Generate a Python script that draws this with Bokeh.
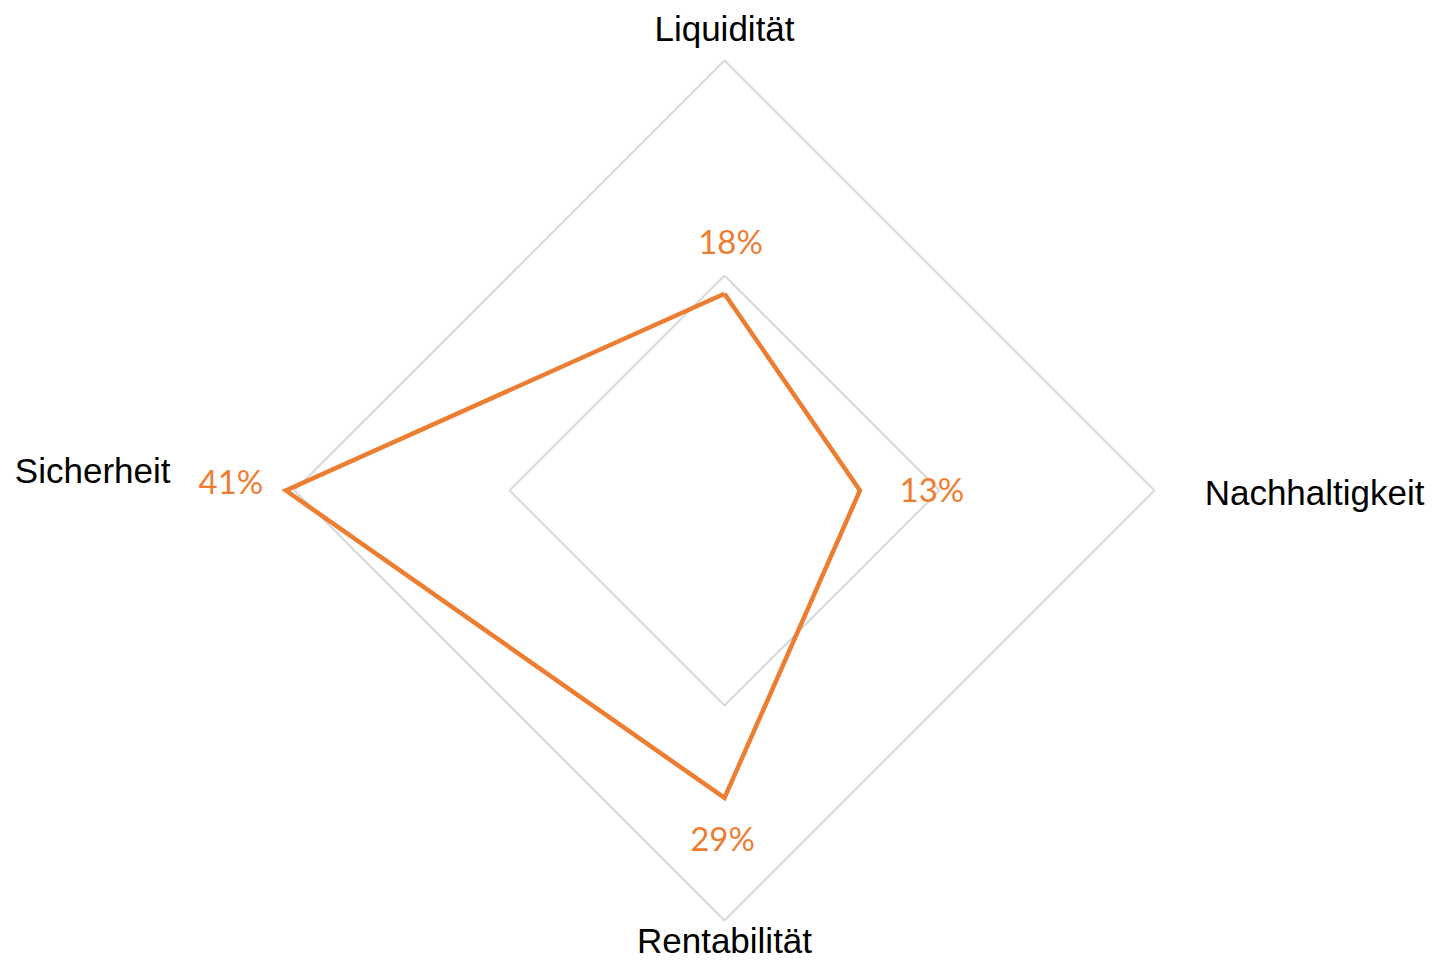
import numpy as np
from bokeh.plotting import figure
from bokeh.models import Range1d, ColumnDataSource
from bokeh.core.properties import value
from bokeh.embed import file_html
from bokeh.resources import INLINE

# ---- data ----
categories = ["Liquidität", "Nachhaltigkeit", "Rentabilität", "Sicherheit"]
shares = [0.183, 0.126, 0.286, 0.408]
share_labels = ["18%", "13%", "29%", "41%"]
grid_levels = [0.2, 0.4]
scale_max = 0.4

# ---- layout / style ----
W, H = 1426, 961
CX, CY = 724, 490          # centre in figure pixels (from top-left)
R = 430                    # radius of outer ring in px
ORANGE = "#ED7D31"
GRID = "#D9D9D9"

angles = np.radians([90, 0, -90, 180])   # clockwise from top

p = figure(width=W, height=H, output_backend="svg", toolbar_location=None,
           x_range=Range1d(-CX, W - CX), y_range=Range1d(-(H - CY), CY),
           min_border=0, outline_line_color=None)
p.axis.visible = False
p.grid.visible = False
p.background_fill_color = "white"
p.border_fill_color = "white"

# grid rings
for lv in grid_levels:
    r = lv / scale_max * R
    xs = list(r * np.cos(angles)) + [r * np.cos(angles[0])]
    ys = list(r * np.sin(angles)) + [r * np.sin(angles[0])]
    p.line(xs, ys, line_color=GRID, line_width=2)

# data polygon
rad = np.array(shares) / scale_max * R
px = rad * np.cos(angles)
py = rad * np.sin(angles)
p.line(list(px) + [px[0]], list(py) + [py[0]], line_color=ORANGE, line_width=4.5,
       line_join="miter")

# data labels (offsets in px from vertex)
lab_dx = [6, 72, -2, -55]
lab_dy = [53, 2, -40, 10]
src = ColumnDataSource(dict(x=px + np.array(lab_dx), y=py + np.array(lab_dy), t=share_labels))
p.text(x="x", y="y", text="t", source=src, text_color=ORANGE,
       text_font=value("Lato"), text_font_size="33px",
       text_align="center", text_baseline="middle")

# category labels
cat_x = [0, 700, 0, -554]
cat_y = [R + 32, -2, -450, 20]
cat_align = ["center", "right", "center", "right"]
csrc = ColumnDataSource(dict(x=cat_x, y=cat_y, t=categories, a=cat_align))
p.text(x="x", y="y", text="t", source=csrc, text_color="black",
       text_font=value("Liberation Sans"), text_font_size="35px",
       text_align="a", text_baseline="middle")

open("out.html", "w").write(file_html(p, INLINE))
